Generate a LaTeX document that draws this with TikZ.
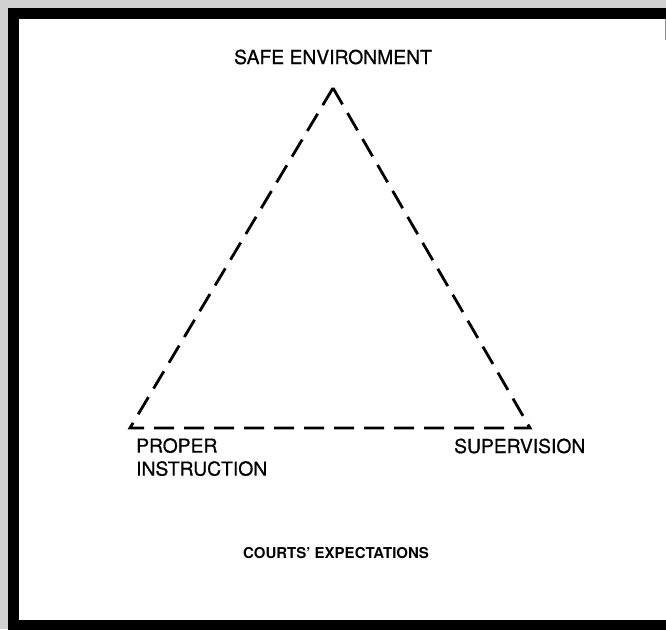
\documentclass[tikz,border=0pt]{standalone}
\usepackage{fontspec}
\setmainfont{TeX Gyre Heros}
\begin{document}
\begin{tikzpicture}[x=1pt,y=-1pt,
  lbl/.style={inner sep=0pt, font=\fontsize{19.3}{23}\selectfont\addfontfeatures{FakeBold=0.6}},
  title/.style={inner sep=0pt, font=\fontsize{15}{18}\selectfont\bfseries},
  tri/.style={line width=2.8pt, dash pattern=on 20pt off 10pt, line join=miter}]
\useasboundingbox (0,0) rectangle (666,629);
\fill[black!18] (0,0) rectangle (666,629);
\fill[black] (8,8) rectangle (680,640);
\fill[white] (19,19) rectangle (666,620);
\draw[black!45, line width=0.8pt] (665.2,19) -- (665.2,40);
\coordinate (top) at (333,88);
\coordinate (bl) at (130,428);
\coordinate (br) at (530,428);
\draw[tri] (top) -- (bl) -- (br) -- cycle;
\node[lbl] (safe) at (333,57) {SAFE ENVIRONMENT};
\node[lbl, align=left, anchor=north west] (proper) at (136,438) {PROPER\\INSTRUCTION};
\node[lbl, anchor=west] (sup) at (454,446) {SUPERVISION};
\node[title] (courts) at (336,553) {COURTS' EXPECTATIONS};
\end{tikzpicture}
\end{document}
